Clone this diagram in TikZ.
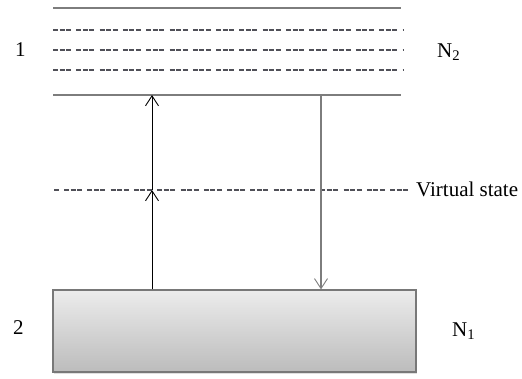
\documentclass[tikz,border=0pt]{standalone}
\usepackage{fontspec}
\setmainfont{Liberation Serif}
\usetikzlibrary{arrows.meta,shadows}

\definecolor{levelgray}{RGB}{125,125,125}
\definecolor{dashgray}{RGB}{80,80,88}
\definecolor{boxedge}{RGB}{120,120,120}
\definecolor{boxtop}{RGB}{236,236,236}
\definecolor{boxbottom}{RGB}{188,188,188}

\tikzset{
  level/.style={draw=levelgray, line width=1.8pt},
  sublevel/.style={draw=dashgray, line width=1.4pt,
    dash pattern=on 5pt off 1.5pt on 5pt off 1.5pt on 5pt off 5.3pt},
  label/.style={inner sep=0pt, anchor=base west, font=\fontsize{21pt}{25pt}\selectfont},
  barb/.style={-{Straight Barb[length=10pt,width=13pt,line width=0.9pt]}},
  pump/.style={draw=black, line width=0.9pt, barb},
  decay/.style={draw=levelgray, line width=1.2pt, barb},
  groundbox/.style={draw=boxedge, line width=1.2pt,
    top color=boxtop, bottom color=boxbottom,
    drop shadow={shadow xshift=1pt, shadow yshift=-1.5pt, opacity=0.25},
    minimum width=363pt, minimum height=82pt, inner sep=0pt}
}

\begin{document}
\begin{tikzpicture}[x=1pt, y=-1pt]
  \useasboundingbox (0,0) rectangle (522,378);

  % upper band: edges and internal sublevels
  \coordinate (topL) at (53,8);     \coordinate (topR) at (401,8);
  \coordinate (botL) at (53,95);    \coordinate (botR) at (401,95);
  \draw[level] (topL) -- (topR);
  \draw[level] (botL) -- (botR);
  \foreach \yy/\nm in {30/a,50/b,70/c} {
    \coordinate (sub\nm L) at (53,\yy);
    \coordinate (sub\nm R) at (403,\yy);
    \draw[sublevel] (sub\nm L) -- (sub\nm R);
  }

  % virtual state
  \coordinate (virtL) at (54,190); \coordinate (virtR) at (409,190);
  \draw[sublevel, dash phase=-10pt] (virtL) -- (virtR);
  \node[label] (virt) at (416,196) {Virtual state};

  % lower level
  \node[groundbox] (ground) at (234.5,331) {};

  % level labels
  \node[label] (one) at (15,56) {1};
  \node[label] (ntwo) at (437,57) {N\textsubscript{2}};
  \node[label] (two) at (13,334) {2};
  \node[label] (none) at (452,336) {N\textsubscript{1}};

  % two-photon pump via the virtual state, and the decay back
  \coordinate (pumpBase) at (ground.north -| 152,0);
  \coordinate (pumpMid) at (152,190);
  \coordinate (pumpTop) at (152,95);
  \draw[pump] (pumpBase) -- (pumpMid);
  \draw[pump] (pumpMid) -- (pumpTop);
  \coordinate (decayTop) at (321,95);
  \coordinate (decayEnd) at (ground.north -| 321,0);
  \draw[decay] (decayTop) -- (decayEnd);
\end{tikzpicture}
\end{document}
